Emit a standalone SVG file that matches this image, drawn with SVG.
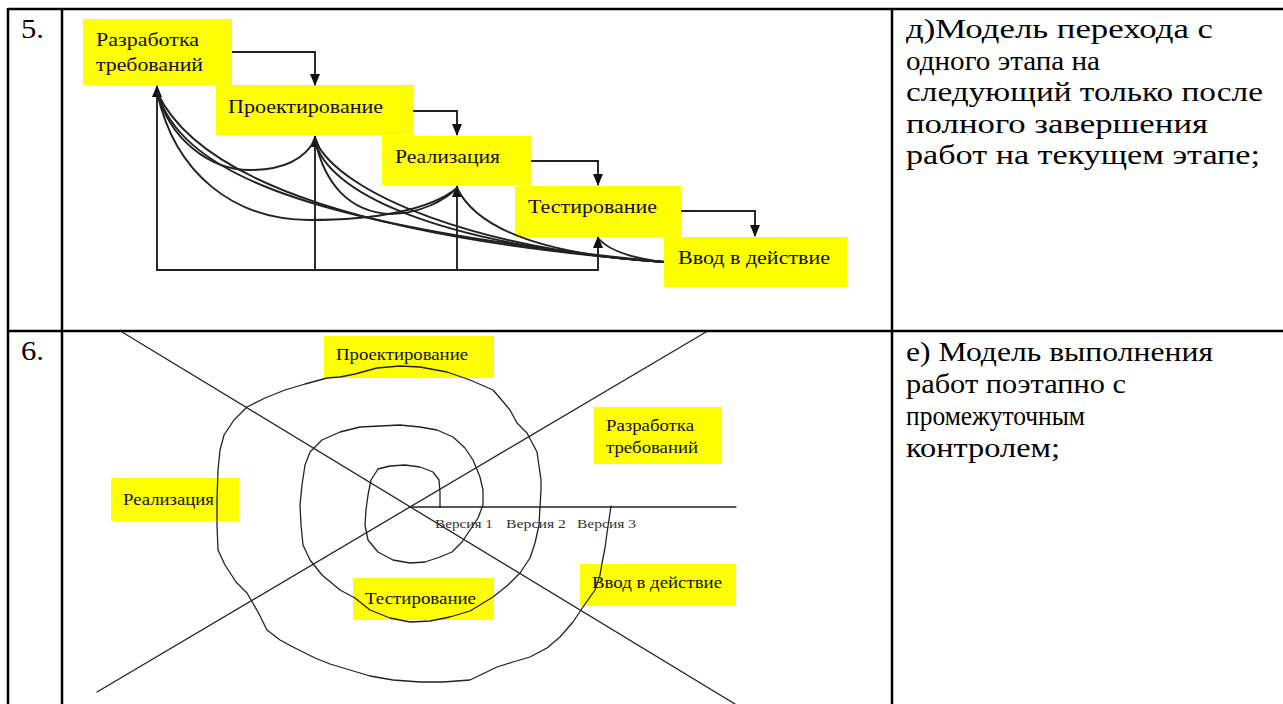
<svg xmlns="http://www.w3.org/2000/svg" width="1283" height="704" viewBox="0 0 1283 704">
<style>
text{font-family:'Liberation Serif','Times New Roman',serif}
.border{stroke:#000;stroke-width:2.5;fill:none}
.box{fill:#ffff00}
.lbl{font-size:19px;fill:#111}
.lbl2{font-size:16px;fill:#111}
.ver{font-size:13px;fill:#333}
.cell{font-size:27px;fill:#000}
.ln{stroke:#222;stroke-width:1.9;fill:none}
.thin{stroke:#222;stroke-width:1.3;fill:none;stroke-linejoin:round;stroke-linecap:round}
</style>
<defs>
<marker id="ah" markerWidth="12" markerHeight="12" refX="11" refY="6" orient="auto" markerUnits="userSpaceOnUse">
<path d="M0,1 L12,6 L0,11 z" fill="#111"/>
</marker>
</defs>
<rect width="1283" height="704" fill="#fff"/>

<g id="table">
<line class="border" x1="8" y1="9" x2="1283" y2="9"/>
<line class="border" x1="8" y1="331" x2="1283" y2="331"/>
<line class="border" x1="8" y1="8" x2="8" y2="704"/>
<line class="border" x1="62" y1="8" x2="62" y2="704"/>
<line class="border" x1="892" y1="8" x2="892" y2="704"/>
<text class="cell" x="21" y="38" textLength="23" lengthAdjust="spacingAndGlyphs">5.</text>
<text class="cell" x="21" y="360" textLength="23" lengthAdjust="spacingAndGlyphs">6.</text>
<text class="cell" x="906" y="38" textLength="307" lengthAdjust="spacingAndGlyphs">д)Модель перехода с</text>
<text class="cell" x="906" y="70" textLength="194" lengthAdjust="spacingAndGlyphs">одного этапа на</text>
<text class="cell" x="906" y="101" textLength="357" lengthAdjust="spacingAndGlyphs">следующий только после</text>
<text class="cell" x="906" y="133" textLength="302" lengthAdjust="spacingAndGlyphs">полного завершения</text>
<text class="cell" x="906" y="164" textLength="354" lengthAdjust="spacingAndGlyphs">работ на текущем этапе;</text>
<text class="cell" x="906" y="361" textLength="307" lengthAdjust="spacingAndGlyphs">е) Модель выполнения</text>
<text class="cell" x="906" y="393" textLength="220" lengthAdjust="spacingAndGlyphs">работ поэтапно с</text>
<text class="cell" x="906" y="425" textLength="179" lengthAdjust="spacingAndGlyphs">промежуточным</text>
<text class="cell" x="906" y="457" textLength="154" lengthAdjust="spacingAndGlyphs">контролем;</text>
</g>

<!-- Diagram 5 -->
<g id="w-req"><rect class="box" x="83" y="19" width="149" height="66"/><text class="lbl" x="96" y="46" textLength="103" lengthAdjust="spacingAndGlyphs">Разработка</text><text class="lbl" x="96" y="71" textLength="107" lengthAdjust="spacingAndGlyphs">требований</text></g>
<g id="w-design"><rect class="box" x="216" y="85" width="197" height="50"/><text class="lbl" x="228" y="113" textLength="155" lengthAdjust="spacingAndGlyphs">Проектирование</text></g>
<g id="w-impl"><rect class="box" x="382" y="136" width="149" height="49"/><text class="lbl" x="395" y="163" textLength="105" lengthAdjust="spacingAndGlyphs">Реализация</text></g>
<g id="w-test"><rect class="box" x="515" y="186" width="166" height="51"/><text class="lbl" x="528" y="213" textLength="129" lengthAdjust="spacingAndGlyphs">Тестирование</text></g>
<g id="w-deploy"><rect class="box" x="664" y="237" width="183" height="50"/><text class="lbl" x="678" y="264" textLength="152" lengthAdjust="spacingAndGlyphs">Ввод в действие</text></g>

<g id="w-connectors">
<polyline class="ln" points="232,52 315,52 315,85" marker-end="url(#ah)"/>
<polyline class="ln" points="413,111 457,111 457,135" marker-end="url(#ah)"/>
<polyline class="ln" points="531,161 598,161 598,185" marker-end="url(#ah)"/>
<polyline class="ln" points="681,211 755,211 755,236" marker-end="url(#ah)"/>
<polyline class="ln" points="157,120 157,270 598,270 598,250"/>
<line class="ln" x1="157" y1="120" x2="157" y2="86" marker-end="url(#ah)"/>
<line class="ln" x1="315" y1="270" x2="315" y2="136" marker-end="url(#ah)"/>
<line class="ln" x1="457" y1="270" x2="457" y2="186" marker-end="url(#ah)"/>
<line class="ln" x1="598" y1="255" x2="598" y2="237" marker-end="url(#ah)"/>
<path class="ln" d="M157,92 C170,140 210,170 250,170 C285,170 305,158 315,140"/>
<path class="ln" d="M157,92 C175,175 235,220 310,220 C375,220 430,210 457,188"/>
<path class="ln" d="M157,92 C180,165 280,225 664,262"/>
<path class="ln" d="M157,92 C200,185 380,240 664,262"/>
<path class="ln" d="M315,140 C325,190 430,245 664,262"/>
<path class="ln" d="M315,140 C340,195 480,250 664,262"/>
<path class="ln" d="M315,140 C325,185 350,212 390,214 C420,214 445,200 457,188"/>
<path class="ln" d="M457,188 C480,235 560,256 664,262"/>
<path class="ln" d="M664,262 C630,258 608,250 598,238"/>
</g>

<!-- Diagram 6 -->
<g id="s-lines">
<line class="thin" x1="122" y1="332" x2="735" y2="704"/>
<line class="thin" x1="97" y1="692" x2="706" y2="332"/>
<line class="thin" x1="409" y1="507" x2="736" y2="507"/>
</g>
<g id="s-design"><rect class="box" x="324" y="336" width="170" height="42"/><text class="lbl2" x="336" y="360" textLength="132" lengthAdjust="spacingAndGlyphs">Проектирование</text></g>
<g id="s-req"><rect class="box" x="594" y="407" width="128" height="57"/><text class="lbl2" x="606" y="431" textLength="88" lengthAdjust="spacingAndGlyphs">Разработка</text><text class="lbl2" x="606" y="453" textLength="92" lengthAdjust="spacingAndGlyphs">требований</text></g>
<g id="s-impl"><rect class="box" x="111" y="478" width="128" height="43"/><text class="lbl2" x="123" y="505" textLength="91" lengthAdjust="spacingAndGlyphs">Реализация</text></g>
<g id="s-test"><rect class="box" x="353" y="578" width="141" height="42"/><text class="lbl2" x="365" y="604" textLength="111" lengthAdjust="spacingAndGlyphs">Тестирование</text></g>
<g id="s-deploy"><rect class="box" x="580" y="564" width="156" height="42"/><text class="lbl2" x="592" y="588" textLength="130" lengthAdjust="spacingAndGlyphs">Ввод в действие</text></g>
<g id="s-versions">
<text class="ver" x="435" y="528" textLength="58" lengthAdjust="spacingAndGlyphs">Версия 1</text>
<text class="ver" x="506" y="528" textLength="60" lengthAdjust="spacingAndGlyphs">Версия 2</text>
<text class="ver" x="577" y="528" textLength="59" lengthAdjust="spacingAndGlyphs">Версия 3</text>
</g>
<g id="s-spiral">
<polyline class="thin" points="440,507 440,492 439,480 433,472 420,467 405,465 390,466 378,469 371,480 368,495 366,510 365,525 368,540 378,552 393,560 410,563 425,562 440,557 452,552 462,542 470,530 478,518 483,505 483,490 480,477 473,460 465,448 453,437 437,430 420,427 400,425 380,426 360,427 340,432 322,440 310,452 305,465 302,485 300,505 301,525 303,545 310,560 322,575 340,590 355,598 370,610 390,618 410,622 430,621 450,617 470,611 493,597 508,585 520,573 530,558 535,543 539,525 540,507 541,490 541,480 537,452 527,433 517,423 510,410 500,398 493,390 470,380 447,372 420,367 400,366 377,368 355,374 340,377 327,378 305,384 285,390 265,398 247,407 234,420 224,435 220,450 218,470 217,500 217,525 218,550 225,565 236,582 247,593 258,612 267,630 280,640 293,647 315,658 330,664 350,670 370,676 393,680 420,682 443,682 470,680 497,667 513,662 530,657 547,648 560,637 573,622 583,607 595,590 600,575 602,563 605,548 607,533 610,513 611,506"/>
</g>
</svg>
